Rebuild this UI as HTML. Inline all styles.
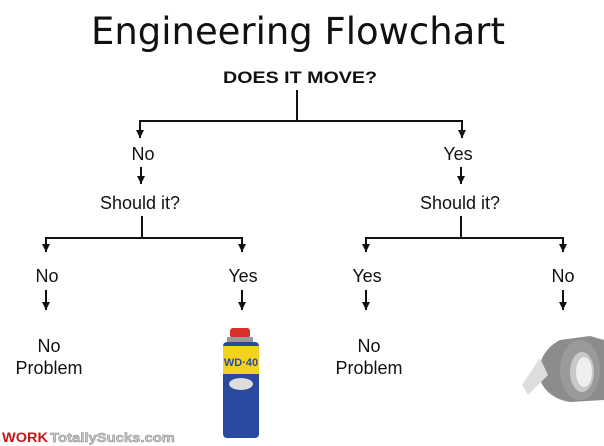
<!DOCTYPE html>
<html><head><meta charset="utf-8"><style>
html,body{margin:0;padding:0;background:#fff;width:604px;height:446px;overflow:hidden}
svg{display:block}
text{font-family:"Liberation Sans",Arial,sans-serif;fill:#111}
</style></head><body>
<svg width="604" height="446" viewBox="0 0 604 446" xmlns="http://www.w3.org/2000/svg">
<defs><marker id="a" markerWidth="10" markerHeight="10" refX="5" refY="8" orient="0" markerUnits="userSpaceOnUse"><path d="M1,0 L9,0 L5,8 z" fill="#111"/></marker></defs>
<text x="298" y="44" text-anchor="middle" font-size="37" style="font-family:'DejaVu Sans',sans-serif" textLength="414" lengthAdjust="spacingAndGlyphs">Engineering Flowchart</text>
<text x="300" y="83" text-anchor="middle" font-size="17" font-weight="bold" textLength="154" lengthAdjust="spacingAndGlyphs">DOES IT MOVE?</text>
<g stroke="#111" stroke-width="2" fill="none">
<path d="M297 90 V121 M140 121 H462"/>
<path d="M140 120 V138" marker-end="url(#a)"/>
<path d="M462 120 V138" marker-end="url(#a)"/>
<path d="M141 167 V184" marker-end="url(#a)"/>
<path d="M461 167 V184" marker-end="url(#a)"/>
<path d="M142 216 V238 M46 238 H242 M461 216 V238 M366 238 H563"/>
<path d="M46 237 V252" marker-end="url(#a)"/>
<path d="M242 237 V252" marker-end="url(#a)"/>
<path d="M366 237 V252" marker-end="url(#a)"/>
<path d="M563 237 V252" marker-end="url(#a)"/>
<path d="M46 290 V310" marker-end="url(#a)"/>
<path d="M242 290 V310" marker-end="url(#a)"/>
<path d="M366 290 V310" marker-end="url(#a)"/>
<path d="M563 290 V310" marker-end="url(#a)"/>
</g>
<g font-size="18">
<text x="143" y="160" text-anchor="middle">No</text>
<text x="458" y="160" text-anchor="middle">Yes</text>
<text x="140" y="209" text-anchor="middle">Should it?</text>
<text x="460" y="209" text-anchor="middle">Should it?</text>
<text x="47" y="282" text-anchor="middle">No</text>
<text x="243" y="282" text-anchor="middle">Yes</text>
<text x="367" y="282" text-anchor="middle">Yes</text>
<text x="563" y="282" text-anchor="middle">No</text>
<text x="49" y="352" text-anchor="middle">No</text>
<text x="49" y="374" text-anchor="middle">Problem</text>
<text x="369" y="352" text-anchor="middle">No</text>
<text x="369" y="374" text-anchor="middle">Problem</text>
</g>
<!-- WD-40 can -->
<rect x="230" y="328" width="20" height="10" rx="3" fill="#d8302a"/>
<rect x="227" y="337" width="26" height="6" fill="#999"/>
<rect x="223" y="342" width="36" height="96" rx="4" fill="#2a4aa0"/>
<rect x="223" y="346" width="36" height="28" fill="#f2d21c"/>
<text x="241" y="366" text-anchor="middle" font-size="11" font-weight="bold" style="fill:#2a4aa0">WD·40</text>
<ellipse cx="241" cy="384" rx="12" ry="6" fill="#ddd"/>
<!-- tape -->
<path d="M560 340 L590 336 L604 340 L604 400 L570 402 Q545 398 538 375 Q540 350 560 340 Z" fill="#8c8c8c"/>
<ellipse cx="580" cy="370" rx="20" ry="30" fill="#9a9a9a"/>
<ellipse cx="582" cy="372" rx="12" ry="20" fill="#c8c8c8"/>
<ellipse cx="584" cy="372" rx="8" ry="15" fill="#eee"/>
<path d="M540 358 L522 385 L528 395 L548 375 Z" fill="#ddd"/>
<text x="2" y="442" font-size="14" font-weight="bold" style="fill:#c41818" textLength="46" lengthAdjust="spacingAndGlyphs">WORK</text>
<text x="50" y="442" font-size="13" font-weight="bold" style="fill:#ccc;stroke:#888;stroke-width:0.5" textLength="125" lengthAdjust="spacingAndGlyphs">TotallySucks.com</text>
</svg>
</body></html>
